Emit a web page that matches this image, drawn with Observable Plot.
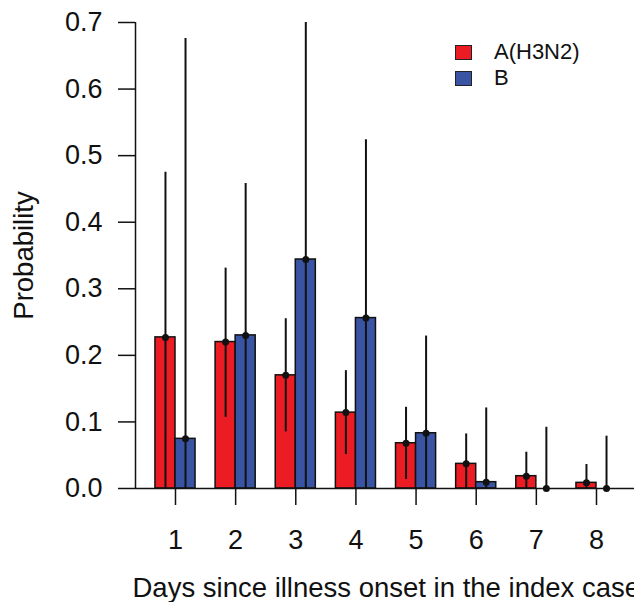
<!DOCTYPE html>
<html>
<head>
<meta charset="utf-8">
<script src="https://cdn.jsdelivr.net/npm/d3@7"></script>
<script src="https://cdn.jsdelivr.net/npm/@observablehq/plot@0.6"></script>
<style>
  html, body { margin: 0; padding: 0; background: #fff; }
  #wrap { position: relative; width: 634px; height: 602px; overflow: hidden; font-family: "Liberation Sans", Arial, sans-serif; }
  #legend { position: absolute; left: 455px; top: 39px; font-size: 22px; color: #111; }
  .item { display: flex; align-items: center; height: 26px; }
  .sw { width: 15px; height: 13px; border: 1.5px solid #222; margin-right: 22px; }
</style>
</head>
<body>
<div id="wrap"><div id="legend"></div></div>
<script>
// ---- data ----
const days = [1, 2, 3, 4, 5, 6, 7, 8];
const series = ["A(H3N2)", "B"];
const colors = ["#EC1C24", "#3A54A4"];

const probA  = [0.227, 0.220, 0.170, 0.114, 0.068, 0.037, 0.0185, 0.0085];
const upperA = [0.475, 0.331, 0.255, 0.177, 0.122, 0.082, 0.0545, 0.036];
const lowerA = [0.000, 0.107, 0.085, 0.051, 0.0135, 0.000, 0.000, 0.000];

const probB  = [0.0746, 0.230, 0.344, 0.256, 0.083, 0.0095, 0.000, 0.000];
const upperB = [0.676, 0.458, 0.700, 0.524, 0.229, 0.121, 0.092, 0.0786];
const lowerB = [0, 0, 0, 0, 0, 0, 0, 0];

const yTicks = [0, 0.1, 0.2, 0.3, 0.4, 0.5, 0.6, 0.7];
const xTitle = "Days since illness onset in the index case";
const yTitle = "Probability";

// ---- table ----
const rows = [];
days.forEach((d, i) => {
  rows.push({day: d, series: series[0], p: probA[i], lo: lowerA[i], hi: upperA[i]});
  rows.push({day: d, series: series[1], p: probB[i], lo: lowerB[i], hi: upperB[i]});
});

const barW = 1 / 3;
const x1 = d => d.day + (d.series === series[0] ? -barW : 0);
const x2 = d => x1(d) + barW;
const xc = d => x1(d) + barW / 2;
const xDomain = [0.335, 8.632];
const ink = "#111";
const fs = 27;

const chart = Plot.plot({
  width: 634,
  height: 602,
  marginLeft: 135,
  marginRight: 0,
  marginTop: 22,
  marginBottom: 114,
  style: {fontFamily: "Liberation Sans, Arial, sans-serif", background: "transparent", color: ink},
  x: {domain: xDomain, axis: null},
  y: {domain: [0, 0.7], axis: null},
  color: {domain: series, range: colors},
  marks: [
    Plot.rectY(rows, {x1, x2, y1: 0, y2: "p", fill: "series", stroke: ink, strokeWidth: 1.5}),
    Plot.ruleX(rows, {x: xc, y1: "lo", y2: "hi", stroke: ink, strokeWidth: 2}),
    Plot.dot(rows, {x: xc, y: "p", r: 3.5, fill: ink, stroke: null}),
    Plot.ruleY([0], {stroke: ink, strokeWidth: 1.5}),
    Plot.ruleX([xDomain[0]], {y1: yTicks[0], y2: yTicks[yTicks.length - 1], stroke: ink, strokeWidth: 1.5}),
    Plot.axisY({ticks: yTicks, tickFormat: d3.format(".1f"), tickSize: 17, tickPadding: 16, fontSize: fs, label: null, stroke: ink, strokeWidth: 1.5}),
    Plot.axisX({ticks: days, tickFormat: d => String(d), tickSize: 17, tickPadding: 24, fontSize: fs, label: null, stroke: ink, strokeWidth: 1.5}),
    Plot.text([yTitle], {frameAnchor: "left", rotate: -90, dx: -111, fontSize: 27.5, fill: ink, textAnchor: "middle", lineAnchor: "middle"}),
    Plot.text([xTitle], {frameAnchor: "bottom-left", textAnchor: "start", dx: -3, dy: 100, fontSize: 27.5, fill: ink, lineAnchor: "middle"})
  ]
});
document.getElementById("wrap").prepend(chart);

// legend
const leg = document.getElementById("legend");
series.forEach((s, i) => {
  const it = document.createElement("div");
  it.className = "item";
  const sw = document.createElement("span");
  sw.className = "sw";
  sw.style.background = colors[i];
  const tx = document.createElement("span");
  tx.textContent = s;
  it.append(sw, tx);
  leg.append(it);
});
</script>
</body>
</html>
